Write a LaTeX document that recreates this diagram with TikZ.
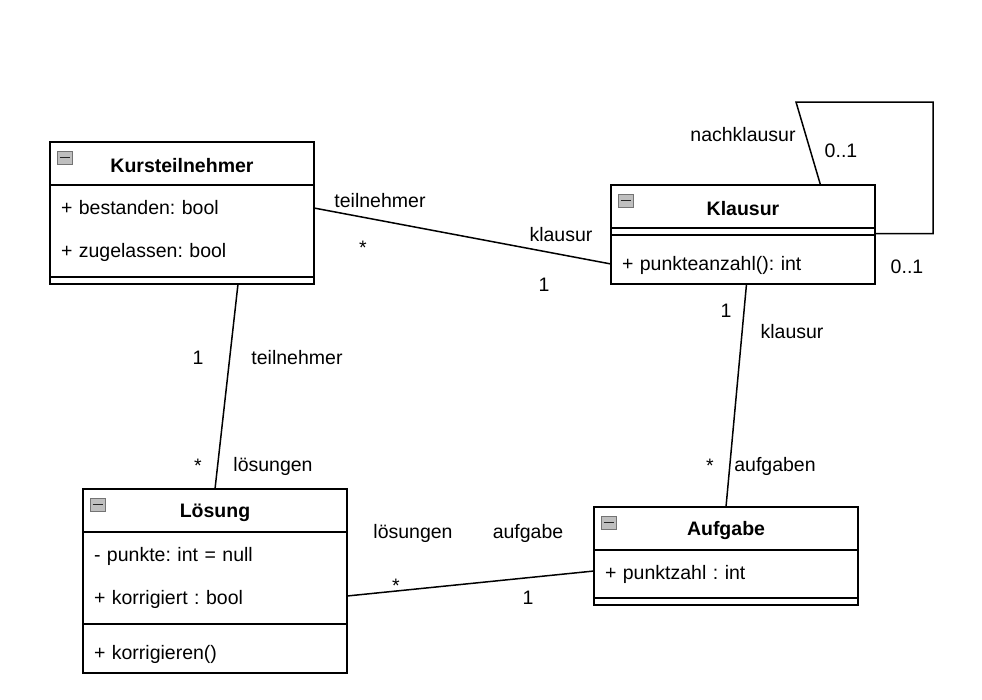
\documentclass[tikz,border=0pt]{standalone}
\usepackage{fontspec}
\setmainfont{Liberation Sans}
\frenchspacing
\begin{document}
\begin{tikzpicture}[x=1pt,y=-1pt]
    \def\fs{\fontsize{19.5}{43}\selectfont}

    \tikzstyle{head}=[draw=black,line width=1.5pt,anchor=north west,minimum width=264pt,minimum height=43pt,inner sep=0pt,outer sep=0pt,text height=18pt,font=\fs\bfseries]
    \tikzstyle{comp}=[draw=black,line width=1.5pt,anchor=north west,text width=242pt,inner xsep=11pt,inner ysep=0pt,outer sep=0pt,align=left,font=\fs]
    \tikzstyle{meth}=[comp,text height=26pt]
    \tikzstyle{collapse}=[draw=black!55,fill=black!25,line width=0.8pt,minimum width=15pt,minimum height=13pt,inner sep=0pt,
        path picture={\draw[line width=1.6pt,black!85] ([xshift=2.5pt]path picture bounding box.west) -- ([xshift=-2.5pt]path picture bounding box.east);}]
    \tikzstyle{role}=[inner sep=0pt,text height=14pt,text depth=4pt,font=\fontsize{19.5}{23}\selectfont]
    \tikzstyle{assoc}=[draw=black,line width=1.5pt]

    \useasboundingbox (0,0) rectangle (982,699);

    \node[head]  (kt-head) at (50,142) {Kursteilnehmer};
    \node[comp,minimum height=92pt]  (kt-attr) at (kt-head.south west) {+ bestanden: bool\\+ zugelassen: bool};
    \node[comp,minimum height=7pt]  (kt-meth) at (kt-attr.south west) {};
    \node[collapse]  (kt-icon) at ([xshift=14.5pt,yshift=-15.5pt]kt-head.north west) {};

    \node[head]  (kl-head) at (611,185) {Klausur};
    \node[comp,minimum height=7pt]  (kl-attr) at (kl-head.south west) {};
    \node[meth,minimum height=49pt]  (kl-meth) at (kl-attr.south west) {+ punkteanzahl(): int};
    \node[collapse]  (kl-icon) at ([xshift=14.5pt,yshift=-15.5pt]kl-head.north west) {};

    \node[head]  (ls-head) at (83,489) {Lösung};
    \node[comp,minimum height=92pt]  (ls-attr) at (ls-head.south west) {- punkte: int = null\\+ korrigiert : bool};
    \node[meth,minimum height=49pt]  (ls-meth) at (ls-attr.south west) {+ korrigieren()};
    \node[collapse]  (ls-icon) at ([xshift=14.5pt,yshift=-15.5pt]ls-head.north west) {};

    \node[head]  (af-head) at (594,507) {Aufgabe};
    \node[comp,minimum height=48pt]  (af-attr) at (af-head.south west) {+ punktzahl : int};
    \node[comp,minimum height=7pt]  (af-meth) at (af-attr.south west) {};
    \node[collapse]  (af-icon) at ([xshift=14.5pt,yshift=-15.5pt]af-head.north west) {};

    \coordinate (loop-a) at (796,102);
    \coordinate (loop-b) at (933,102);

          \draw [assoc] ([yshift=23pt]kt-attr.east) -- ([yshift=-4.5pt]kl-meth.west);
          \draw [assoc] ([xshift=56pt]kt-meth.south) -- (ls-head.north);
          \draw [assoc] ([xshift=3.5pt]kl-meth.south) -- (af-head.north);
          \draw [assoc] ([yshift=-18pt]ls-attr.east) -- ([yshift=3pt]af-attr.west);
          \draw [assoc] ([xshift=77.5pt]kl-head.north) -- (loop-a) -- (loop-b) |- ([yshift=-2pt]kl-attr.east);

    \node[role]  (r-kt-teil) at (380,202) {teilnehmer};
    \node[role]  (m-kt-kl) at (363,249) {*};
    \node[role]  (r-kl-kl) at (561,236) {klausur};
    \node[role]  (m-kl-kt) at (544,286) {1};

    \node[role]  (m-kt-ls) at (198,359) {1};
    \node[role]  (r-ls-teil) at (297,359) {teilnehmer};
    \node[role]  (m-ls-kt) at (198,467) {*};
    \node[role]  (r-kt-ls) at (273,466) {lösungen};

    \node[role]  (m-kl-af) at (726,312) {1};
    \node[role]  (r-af-kl) at (792,333) {klausur};
    \node[role]  (m-af-kl) at (710,467) {*};
    \node[role]  (r-kl-af) at (775,466) {aufgaben};

    \node[role]  (r-af-ls) at (413,533) {lösungen};
    \node[role]  (r-ls-af) at (528,533) {aufgabe};
    \node[role]  (m-ls-af) at (396,587) {*};
    \node[role]  (m-af-ls) at (528,599) {1};

    \node[role]  (r-nach) at (743,136) {nachklausur};
    \node[role]  (m-nach-a) at (841,152) {0..1};
    \node[role]  (m-nach-b) at (907,268) {0..1};

  \end{tikzpicture}
\end{document}
